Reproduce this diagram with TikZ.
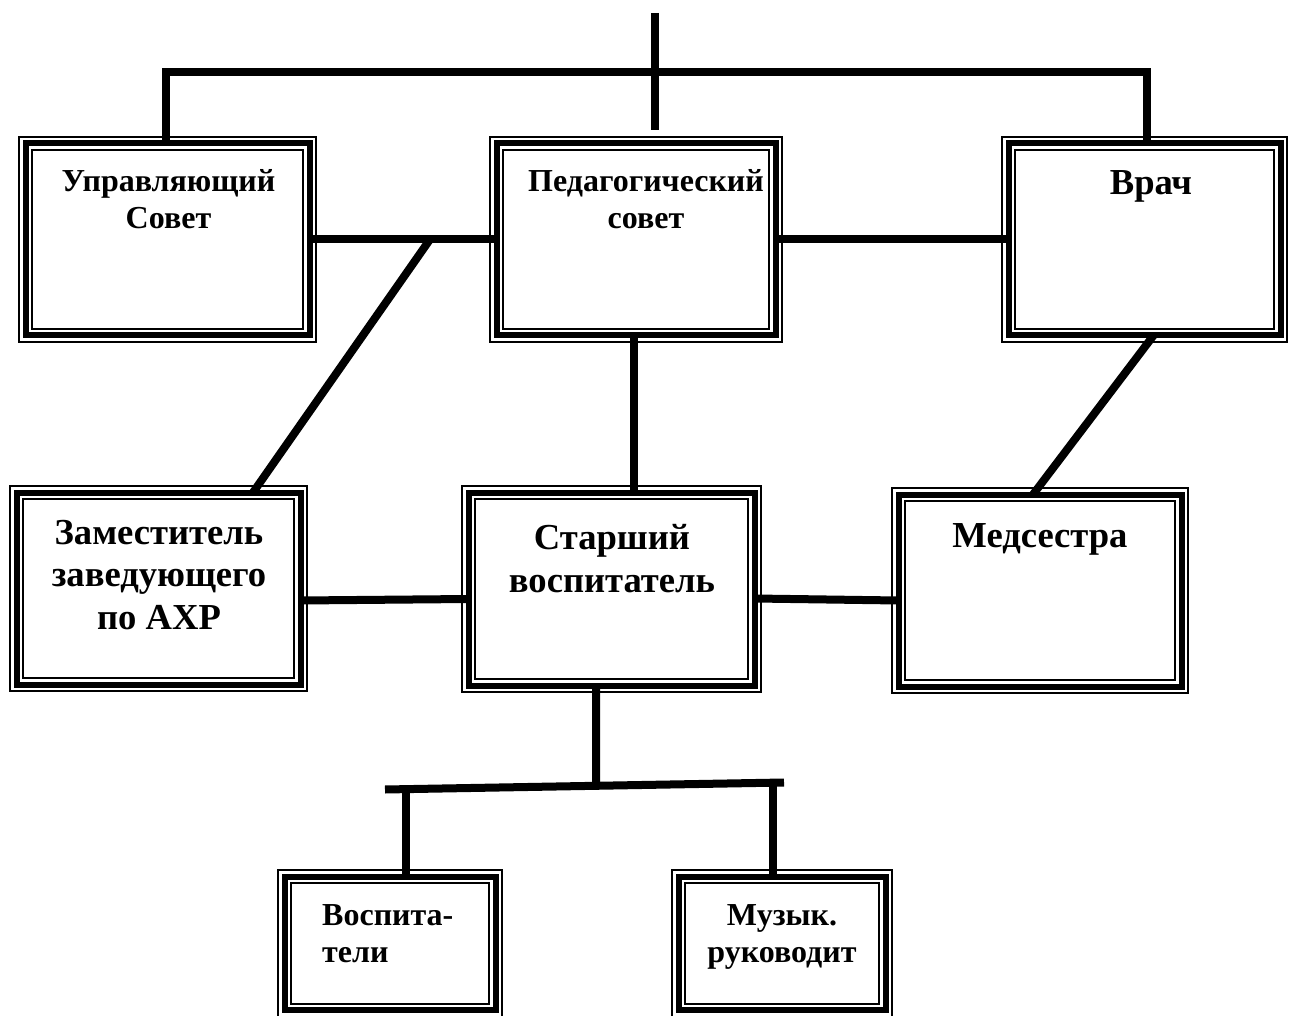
\documentclass[tikz,border=0pt]{standalone}
\usepackage{fontspec}
\setmainfont{Liberation Serif}
\usetikzlibrary{calc}

\tikzset{
  orgbox/.style={draw, line width=6pt, outer sep=0pt, inner sep=0pt},
  rim/.style={line width=2pt},
  link/.style={line width=8pt, line join=miter},
  small/.style={font=\fontsize{32}{37}\selectfont\bfseries, align=center, anchor=base, inner sep=0pt},
  large/.style={font=\fontsize{36.6}{42.5}\selectfont\bfseries, align=center, anchor=base, inner sep=0pt}
}

\begin{document}
\begin{tikzpicture}[x=1pt, y=-1pt]
  \useasboundingbox (0,0) rectangle (1291,1016);
  \clip (0,0) rectangle (1291,1016);
  % boxes
  \node[orgbox, minimum width=284, minimum height=192] (uc) at (167.5,239.5) {};
  \node[orgbox, minimum width=279, minimum height=192] (ps) at (636,239.5) {};
  \node[orgbox, minimum width=272, minimum height=192] (vr) at (1144.5,239.5) {};
  \node[orgbox, minimum width=284, minimum height=192] (zz) at (158.5,588.5) {};
  \node[orgbox, minimum width=286, minimum height=193] (sv) at (611.5,589) {};
  \node[orgbox, minimum width=283, minimum height=192] (ms) at (1040,590.5) {};
  \node[orgbox, minimum width=211, minimum height=133.5] (vo) at (390,943.25) {};
  \node[orgbox, minimum width=207, minimum height=133.5] (mr) at (782,943.25) {};
  \foreach \n in {uc,ps,vr,zz,sv,ms,vo,mr}{
    \draw[rim] ([shift={(-6.5,-6.5)}]\n.north west) rectangle ([shift={(6.5,6.5)}]\n.south east);
    \draw[rim] ([shift={(6.5,6.5)}]\n.north west) rectangle ([shift={(-6.5,-6.5)}]\n.south east);
  }
  % top links
  \coordinate (head) at (655,13);
  \coordinate (neck) at (655,130);
  \draw[link] (head) -- (neck);
  \draw[link] ([xshift=-1.5pt]uc.north) -- ++(0,-71.5) -| ([xshift=2pt]vr.north);
  \draw[link] (uc.east) -- (ps.west);
  \draw[link] (ps.east) -- (vr.west);
  \coordinate (psout) at ([xshift=-2pt]ps.south);
  \draw[link] (psout) -- (psout |- sv.north);
  \draw[link] ($(uc.east)!0.644!(ps.west)$) -- ([xshift=94.5pt]zz.north);
  \draw[link] ([xshift=9pt]vr.south) -- ([xshift=-7pt]ms.north);
  % middle row
  \draw[link] ([yshift=-12pt]zz.east) -- ([yshift=-10pt]sv.west);
  \draw[link] ([yshift=-9.5pt]sv.east) -- ([yshift=-10pt]ms.west);
  % bottom bar
  \coordinate (barL) at (385,789.5);
  \coordinate (barR) at (784,782.5);
  \draw[link] (barL) -- (barR);
  \draw[link] ([xshift=-15.5pt]sv.south) -- ($(barL)!0.529!(barR)$);
  \coordinate (voin) at ([xshift=15.5pt]vo.north);
  \coordinate (mrin) at ([xshift=-9.5pt]mr.north);
  \draw[link] (voin |- barL) -- (voin);
  \draw[link] (mrin |- barR) -- (mrin);
  % labels (base = last line)
  \node[small] (uct) at (168.5,229) {Управляющий\\Совет};
  \node[small] (pst) at (646,229) {Педагогический\\совет};
  \node[large] (vrt) at (1151,195) {Врач};
  \node[large] (zzt) at (159,629) {Заместитель\\заведующего\\по АХР};
  \node[large] (svt) at (612,592) {Старший\\воспитатель};
  \node[large] (mst) at (1040,547) {Медсестра};
  \node[small, align=left, anchor=base west] (vot) at (322,962) {Воспита-\\тели};
  \node[small] (mrt) at (782,962) {Музык.\\руководит};
\end{tikzpicture}
\end{document}
